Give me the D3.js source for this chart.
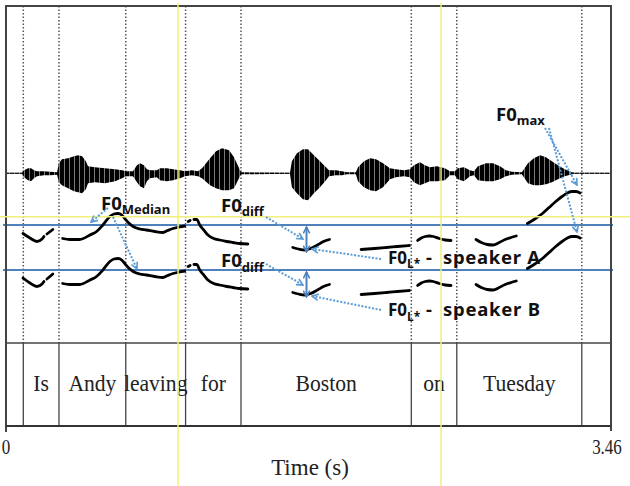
<!DOCTYPE html>
<html><head><meta charset="utf-8">
<script src="https://cdn.jsdelivr.net/npm/d3@7"></script>
<style>
html,body{margin:0;padding:0;background:#fff;}
svg{display:block;}
</style></head>
<body>
<svg id="c" width="630" height="486"></svg>
<script>
// ---------------- DATA ----------------
const duration = 3.46;
const timeTicks = [0, 3.46];
const wordBounds = [0.099, 0.303, 0.685, 1.027, 1.344, 2.318, 2.578, 3.293];
const wordLabels = ["", "Is", "Andy", "leaving", "for", "Boston", "on", "Tuesday", ""];

// waveform envelope: [time (s), upper amplitude, lower amplitude] (normalised)
const waveT = [0,0.092,0.103,0.126,0.143,0.160,0.177,0.217,0.252,0.292,0.303,0.320,0.355,0.389,0.412,0.435,0.457,0.469,0.509,0.566,0.624,0.664,0.686,0.726,0.749,0.766,0.789,0.806,0.823,0.863,0.880,0.920,0.955,0.995,1.023,1.063,1.098,1.121,1.167,1.201,1.236,1.276,1.304,1.344,1.624,1.635,1.664,1.698,1.727,1.761,1.796,1.830,1.847,1.887,1.921,1.950,2.001,2.013,2.047,2.082,2.116,2.156,2.196,2.230,2.276,2.310,2.333,2.367,2.396,2.424,2.465,2.510,2.539,2.567,2.584,2.619,2.653,2.676,2.699,2.745,2.785,2.825,2.859,2.893,2.950,2.985,3.019,3.054,3.088,3.122,3.156,3.196,3.236,3.253,3.46];
const waveUp = [0.02,0.02,0.12,0.20,0.20,0.12,0.08,0.08,0.06,0.04,0.40,0.56,0.60,0.68,0.72,0.68,0.48,0.28,0.24,0.20,0.16,0.12,0.08,0.08,0.32,0.40,0.32,0.16,0.12,0.12,0.20,0.20,0.16,0.12,0.08,0.12,0.08,0.20,0.60,0.88,1.00,0.92,0.64,0.04,0.02,0.48,0.80,0.96,0.96,0.72,0.48,0.24,0.12,0.12,0.08,0.04,0.04,0.24,0.48,0.60,0.56,0.40,0.20,0.16,0.12,0.16,0.32,0.44,0.32,0.24,0.28,0.20,0.08,0.08,0.20,0.24,0.12,0.08,0.28,0.40,0.40,0.28,0.12,0.06,0.04,0.40,0.60,0.72,0.64,0.48,0.32,0.16,0.04,0.02,0.02];
const waveDown = [0.02,0.02,0.16,0.28,0.32,0.20,0.12,0.08,0.08,0.06,0.36,0.48,0.60,0.72,0.76,0.80,0.64,0.40,0.36,0.40,0.32,0.20,0.12,0.12,0.36,0.52,0.60,0.32,0.20,0.16,0.28,0.32,0.28,0.20,0.12,0.08,0.12,0.20,0.48,0.60,0.68,0.68,0.60,0.04,0.02,0.56,0.80,1.04,1.08,0.80,0.56,0.28,0.12,0.08,0.08,0.04,0.04,0.32,0.56,0.68,0.72,0.56,0.24,0.16,0.12,0.16,0.36,0.48,0.40,0.32,0.32,0.28,0.08,0.08,0.24,0.32,0.12,0.08,0.28,0.32,0.32,0.24,0.12,0.06,0.04,0.40,0.48,0.48,0.44,0.36,0.24,0.12,0.04,0.02,0.02];

// F0 contours (Hz), segments of [time (s), F0]
const f0SpeakerA = [
  [[0.097,183],[0.137,174],[0.177,167],[0.206,172],[0.217,177]],
  [[0.234,182],[0.268,191]],
  [[0.324,173],[0.365,171],[0.422,171],[0.480,180],[0.518,187],[0.554,200],[0.594,217],[0.617,222],[0.641,223],[0.662,220],[0.679,213],[0.702,204],[0.727,197],[0.765,192],[0.803,190],[0.851,187],[0.898,185],[0.925,189],[0.955,193],[0.993,196],[1.022,198]],
  [[1.042,207],[1.053,209]],
  [[1.075,211],[1.091,211],[1.108,200],[1.131,190],[1.155,180],[1.188,173],[1.222,170],[1.262,167],[1.298,165],[1.336,163],[1.383,162]],
  [[1.640,155],[1.673,152],[1.707,150],[1.742,153],[1.781,160],[1.816,167],[1.850,171]],
  [[2.031,151],[2.107,153],[2.174,155],[2.238,157],[2.307,159]],
  [[2.354,169],[2.375,174],[2.398,177],[2.421,178],[2.444,177],[2.478,173],[2.512,170],[2.545,169]],
  [[2.688,171],[2.718,165],[2.752,161],[2.786,160],[2.821,165],[2.855,171],[2.889,175],[2.918,178]],
  [[2.982,203],[3.020,211],[3.068,223],[3.106,235],[3.144,247],[3.180,257],[3.211,264],[3.237,267],[3.260,267],[3.283,264]]
];
const f0SpeakerB = [
  [[0.097,184],[0.137,174],[0.177,167],[0.206,172],[0.217,177]],
  [[0.234,182],[0.268,192]],
  [[0.324,173],[0.365,171],[0.422,171],[0.480,180],[0.518,187],[0.554,200],[0.594,217],[0.617,222],[0.641,223],[0.662,220],[0.679,213],[0.702,204],[0.727,197],[0.765,192],[0.803,190],[0.851,187],[0.898,185],[0.925,189],[0.955,193],[0.993,196],[1.022,198]],
  [[1.042,207],[1.053,209]],
  [[1.075,211],[1.091,211],[1.108,200],[1.131,190],[1.155,180],[1.188,173],[1.222,170],[1.262,167],[1.298,165],[1.336,163],[1.383,162]],
  [[1.640,155],[1.673,152],[1.707,150],[1.742,153],[1.781,160],[1.816,167],[1.850,171]],
  [[2.031,151],[2.107,153],[2.174,155],[2.238,157],[2.307,159]],
  [[2.354,169],[2.375,174],[2.398,177],[2.421,178],[2.444,177],[2.478,173],[2.512,170],[2.545,169]],
  [[2.688,171],[2.718,165],[2.752,161],[2.786,160],[2.821,165],[2.855,171],[2.889,175],[2.918,178]],
  [[2.982,203],[3.020,211],[3.068,223],[3.106,235],[3.144,247],[3.180,257],[3.211,264],[3.237,267],[3.260,267],[3.283,264]]
];
const f0Median = [200, 200];        // speaker A, speaker B (Hz)
const guideTimes = [0.984, 2.488];  // yellow cursor lines (s)
const guideF0 = 216.6;              // yellow horizontal cursor (Hz, speaker A scale)

// ---------------- LAYOUT ----------------
const svg = d3.select("#c");
const L = 6, R = 611, T = 6, TIER = 343, B = 426;
const x = d3.scaleLinear().domain([0, duration]).range([L, R]);
const yWave = d3.scaleLinear().domain([-1, 1]).range([173.3 + 25, 173.3 - 25]);
const yA = d3.scaleLinear().domain([100, 300]).range([275, 175]);
const yB = d3.scaleLinear().domain([100, 300]).range([320, 220]);

const BLUE = "#4f81bd", DOT = "#5b9bd5", YEL = "#f0f07a";

const defs = svg.append("defs");
const pat = defs.append("pattern").attr("id","wv").attr("width",5).attr("height",10).attr("patternUnits","userSpaceOnUse");
pat.append("rect").attr("width",5).attr("height",10).attr("fill","#000");
pat.append("rect").attr("x",4).attr("width",1).attr("height",10).attr("fill","#7a7a7a");
function marker(id, color){
  defs.append("marker").attr("id",id).attr("viewBox","0 0 10 10").attr("refX",9).attr("refY",5)
    .attr("markerWidth",4).attr("markerHeight",4).attr("orient","auto-start-reverse")
    .append("path").attr("d","M1,1 L9,5 L1,9").attr("fill","none").attr("stroke",color).attr("stroke-width",2);
}
marker("ad", DOT); marker("as", BLUE);

// vertical dotted boundary lines (upper area)
svg.append("g").selectAll("line").data(wordBounds).join("line")
  .attr("x1", d=>x(d)).attr("x2", d=>x(d)).attr("y1", T).attr("y2", TIER)
  .attr("stroke","#555").attr("stroke-width",1.5).attr("stroke-dasharray","1.5,2");

// waveform
svg.append("line").attr("x1",L).attr("x2",R).attr("y1",yWave(0)).attr("y2",yWave(0)).attr("stroke","#555").attr("stroke-width",1);
const waveData = waveT.map((t,i)=>({t, u:waveUp[i], d:waveDown[i]}));
svg.append("path").datum(waveData)
  .attr("d", d3.area().x(d=>x(d.t)).y0(d=>yWave(-d.d)).y1(d=>yWave(d.u)))
  .attr("fill","url(#wv)");

// median lines
svg.append("line").attr("x1",3).attr("x2",613).attr("y1",yA(f0Median[0])).attr("y2",yA(f0Median[0])).attr("stroke",BLUE).attr("stroke-width",2);
svg.append("line").attr("x1",3).attr("x2",613).attr("y1",yB(f0Median[1])).attr("y2",yB(f0Median[1])).attr("stroke",BLUE).attr("stroke-width",2);

// F0 contours
const lineA = d3.line().x(d=>x(d[0])).y(d=>yA(d[1])).curve(d3.curveMonotoneX);
const lineB = d3.line().x(d=>x(d[0])).y(d=>yB(d[1])).curve(d3.curveMonotoneX);
svg.append("g").selectAll("path").data(f0SpeakerA).join("path").attr("d",lineA)
  .attr("fill","none").attr("stroke","#000").attr("stroke-width",2.8).attr("stroke-linecap","round");
svg.append("g").selectAll("path").data(f0SpeakerB).join("path").attr("d",lineB)
  .attr("fill","none").attr("stroke","#000").attr("stroke-width",2.8).attr("stroke-linecap","round");

// text tier
svg.append("line").attr("x1",L).attr("x2",R).attr("y1",TIER).attr("y2",TIER).attr("stroke","#444").attr("stroke-width",1.5);
svg.append("g").selectAll("line").data(wordBounds).join("line")
  .attr("x1", d=>x(d)).attr("x2", d=>x(d)).attr("y1", TIER).attr("y2", B)
  .attr("stroke","#444").attr("stroke-width",1.3);
const edges = [0, ...wordBounds, duration];
svg.append("g").selectAll("text").data(wordLabels).join("text")
  .attr("transform",(d,i)=>`translate(${(x(edges[i])+x(edges[i+1]))/2},391) scale(0.9,1)`)
  .attr("text-anchor","middle").attr("font-family","Liberation Serif").attr("font-size",24).attr("fill","#222")
  .text(d=>d);

// frame
svg.append("path").attr("d",`M${L},${B+6} L${L},${T} L${R},${T} L${R},${B+5}`).attr("fill","none").attr("stroke","#444").attr("stroke-width",2);
svg.append("line").attr("x1",L).attr("x2",R).attr("y1",B).attr("y2",B).attr("stroke","#333").attr("stroke-width",2);

// time axis labels
svg.append("g").selectAll("text").data(timeTicks).join("text")
  .attr("transform",(d,i)=>`translate(${x(d)+(i?-4:0)},454) scale(0.85,1)`)
  .attr("text-anchor","middle").attr("font-family","Liberation Serif").attr("font-size",20).attr("fill","#222")
  .text(d=>d===0?"0":d.toFixed(2));
svg.append("text").attr("transform","translate(310,475)").attr("text-anchor","middle")
  .attr("font-family","Liberation Serif").attr("font-size",23).attr("fill","#222").text("Time (s)");

// yellow cursors
svg.append("g").selectAll("line").data(guideTimes).join("line")
  .attr("x1",d=>x(d)).attr("x2",d=>x(d)).attr("y1",3).attr("y2",486).attr("stroke",YEL).attr("stroke-width",1.5);
svg.append("line").attr("x1",0).attr("x2",630).attr("y1",yA(guideF0)).attr("y2",yA(guideF0)).attr("stroke",YEL).attr("stroke-width",1.5);

// annotations
const AF = "Noto Sans";
function label(xp, yp, main, sub, big, small){
  const t = svg.append("text").attr("x",xp).attr("y",yp).attr("font-family",AF).attr("font-weight","bold").attr("fill","#111");
  t.append("tspan").attr("font-size",big||18.5).text(main);
  t.append("tspan").attr("font-size",small||13).attr("dy",4.5).text(sub);
}
function plain(xp, yp, str, len){
  const t = svg.append("text").attr("x",xp).attr("y",yp).attr("font-family",AF).attr("font-weight","bold")
    .attr("font-size",18.5).attr("fill","#111").text(str);
  if(len) t.attr("textLength",len).attr("lengthAdjust","spacing");
}
label(101, 209.5, "F0", "Median");
label(221, 211.5, "F0", "diff");
label(221, 267, "F0", "diff");
label(388, 263.5, "F0", "L*", 17, 12);
plain(426, 263.5, "-");
plain(443, 263.5, "speaker A", 97);
label(388, 316, "F0", "L*", 17, 12);
plain(426, 316, "-");
plain(443, 316, "speaker B", 97);
label(496, 120.5, "F0", "max");

function darrow(x1,y1,x2,y2){
  svg.append("line").attr("x1",x1).attr("y1",y1).attr("x2",x2).attr("y2",y2)
    .attr("stroke",DOT).attr("stroke-width",2).attr("stroke-dasharray","2,1.6").attr("marker-end","url(#ad)");
}
darrow(108,208,91,222);
darrow(113,217,137,269);
darrow(266,217,303,239);
darrow(266,264,303,285);
darrow(381,259,312,249);
darrow(381,310,312,296);
darrow(545,128,577,185);
darrow(549,128,577,232);

function vArrow(yTop,yBot){
  svg.append("line").attr("x1",306.5).attr("x2",306.5).attr("y1",yTop).attr("y2",yBot)
    .attr("stroke",BLUE).attr("stroke-width",2).attr("marker-start","url(#as)").attr("marker-end","url(#as)");
}
vArrow(227,252);
vArrow(272,297);
</script>
</body></html>
